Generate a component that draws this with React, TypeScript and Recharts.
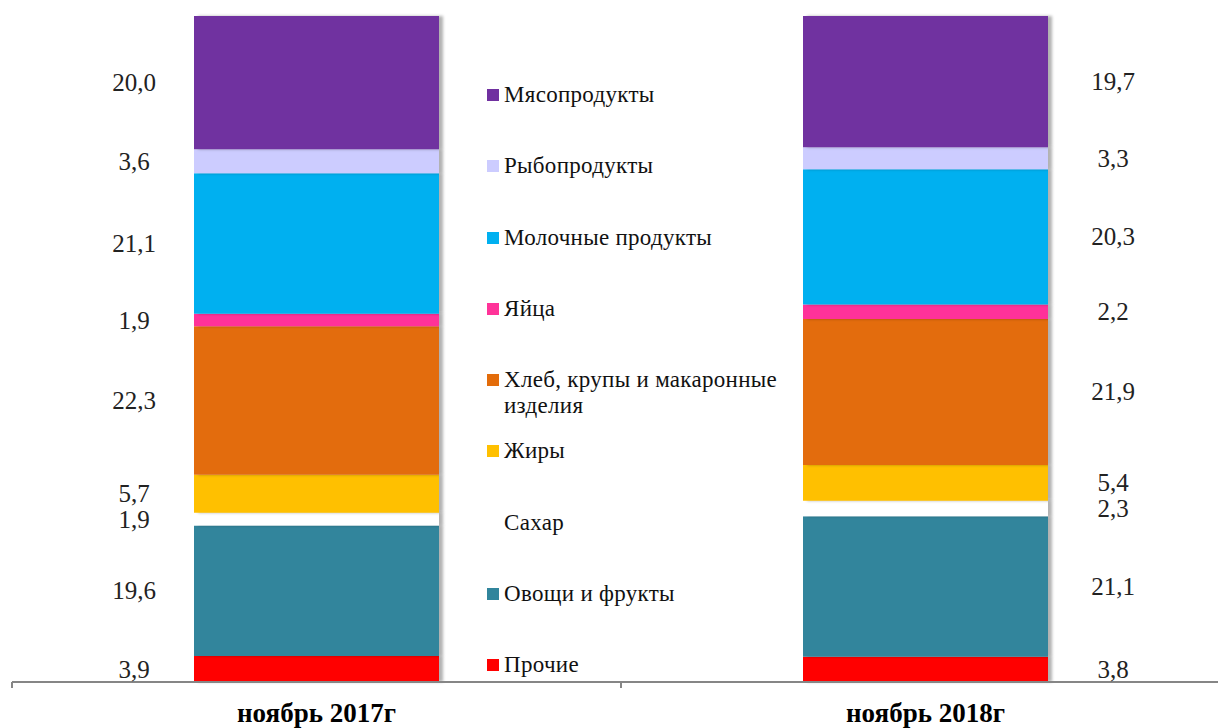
import { Bar, BarChart, LabelList, XAxis, YAxis } from 'recharts';

const categories = ['ноябрь 2017г', 'ноябрь 2018г'];

// bottom to top, as stacked
const seriesNames = [
  'Прочие',
  'Овощи и фрукты',
  'Сахар',
  'Жиры',
  'Хлеб, крупы и макаронные изделия',
  'Яйца',
  'Молочные продукты',
  'Рыбопродукты',
  'Мясопродукты',
];
const seriesColors = [
  '#ff0000',
  '#31859c',
  '#ffffff',
  '#ffc000',
  '#e36c0a',
  '#ff3399',
  '#00b0f0',
  '#ccccff',
  '#7030a0',
];
const values2017 = [3.9, 19.6, 1.9, 5.7, 22.3, 1.9, 21.1, 3.6, 20.0];
const values2018 = [3.8, 21.1, 2.3, 5.4, 21.9, 2.2, 20.3, 3.3, 19.7];

const FONT = 'Liberation Serif';

const data = categories.map((cat, i) => {
  const vals = i === 0 ? values2017 : values2018;
  const row: Record<string, string | number> = { name: cat };
  seriesNames.forEach((s, k) => {
    row[`s${k}`] = vals[k];
  });
  return row;
});

const fmt = (v: number) => v.toFixed(1).replace('.', ',');

function ValueLabel(props: any) {
  const { x, y, width, height, value, index } = props;
  const left = index === 0;
  const cx = left ? x - 60 : x + width + 65;
  return (
    <text
      x={cx}
      y={y + height / 2}
      textAnchor="middle"
      dominantBaseline="central"
      fontFamily={FONT}
      fontSize={25}
      fill="#222"
    >
      {fmt(Number(value))}
    </text>
  );
}

// category label plus a tick mark on the left band boundary
function CategoryTick(props: any) {
  const { x, y, payload } = props;
  const half = payload?.offset ?? 0;
  return (
    <g>
      <line x1={x - half} x2={x - half} y1={y} y2={y + 6} stroke="#868686" strokeWidth={2} />
      <text
        x={x}
        y={y + 40}
        textAnchor="middle"
        fontFamily={FONT}
        fontSize={27}
        fontWeight="bold"
        fill="#000"
      >
        {payload.value}
      </text>
    </g>
  );
}

function SideLegend() {
  const items = seriesNames.map((n, k) => ({ n, c: seriesColors[k] })).reverse();
  return (
    <div
      style={{
        position: 'absolute',
        left: 487,
        top: 82,
        width: 330,
        fontFamily: FONT,
        fontSize: 23,
        letterSpacing: 0.3,
        color: '#111',
      }}
    >
      {items.map((it) => (
        <div key={it.n} style={{ display: 'flex', alignItems: 'flex-start', height: 71.25 }}>
          <span
            style={{
              width: 12,
              height: 12,
              marginTop: 7,
              marginRight: 5,
              flex: 'none',
              background: it.c,
            }}
          />
          <span style={{ lineHeight: '26px', width: 300 }}>{it.n}</span>
        </div>
      ))}
    </div>
  );
}

export default function App() {
  return (
    <div
      style={{
        position: 'absolute',
        left: 0,
        top: 0,
        width: 1218,
        height: 728,
        overflow: 'hidden',
        background: '#fff',
      }}
    >
      <BarChart
        width={1232}
        height={728}
        data={data}
        margin={{ top: 16, right: 2, left: 12, bottom: 0 }}
      >
        <defs>
          <filter id="barShadow" x="-10%" y="-10%" width="130%" height="130%">
            <feDropShadow dx="4" dy="0" stdDeviation="1.5" floodColor="#000" floodOpacity="0.3" />
          </filter>
        </defs>
        <XAxis
          dataKey="name"
          height={46}
          stroke="#868686"
          strokeWidth={2}
          tickLine={false}
          tickSize={0}
          tickMargin={0}
          tick={CategoryTick}
        />
        <YAxis hide domain={[0, 100]} />
        {seriesNames.map((s, k) => (
          <Bar
            key={s}
            dataKey={`s${k}`}
            name={s}
            stackId="a"
            fill={seriesColors[k]}
            barSize={245}
            filter="url(#barShadow)"
            isAnimationActive={false}
          >
            <LabelList dataKey={`s${k}`} content={ValueLabel} />
          </Bar>
        ))}
      </BarChart>
      <SideLegend />
    </div>
  );
}
